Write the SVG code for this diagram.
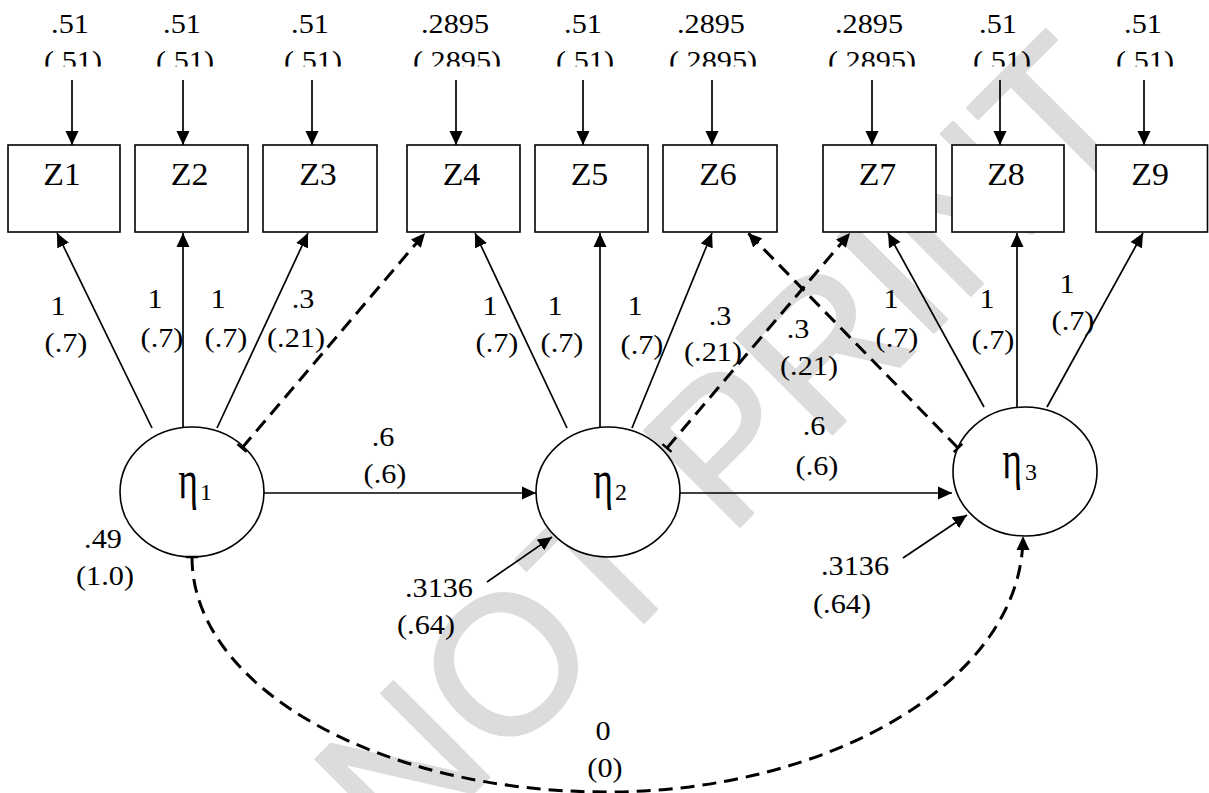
<svg xmlns="http://www.w3.org/2000/svg" width="1209" height="793" viewBox="0 0 1209 793">
  <style>
    .box { fill: #fff; stroke: #000; stroke-width: 1.6; }
    .lat { fill: #fff; stroke: #000; stroke-width: 1.6; }
    .solid { fill: none; stroke: #000; stroke-width: 1.7; marker-end: url(#ah); }
    .dash { fill: none; stroke: #000; stroke-width: 3; stroke-dasharray: 14 8; marker-start: url(#tk); marker-end: url(#ah); }
    .t { font-family: "Liberation Serif", serif; font-size: 27px; text-anchor: middle; fill: #000;
         transform-box: fill-box; transform-origin: center; transform: scaleX(1.12); }
    .z { font-size: 32px; transform: scaleX(1.06); }
    .eta { font-family: "Liberation Serif", serif; font-size: 42px; text-anchor: middle; fill: #000; }
    .sub { font-family: "Liberation Serif", serif; font-size: 24px; text-anchor: middle; fill: #000; }
    .wm { font-family: "Liberation Sans", Arial, sans-serif; font-size: 196px; fill: #dcdcdc; stroke: #dcdcdc; stroke-width: 3; stroke-linejoin: round; }
  </style>
  <defs>
    <marker id="ah" viewBox="0 0 14 14" refX="14" refY="7" markerWidth="14" markerHeight="14" markerUnits="userSpaceOnUse" orient="auto">
      <path d="M0,0.5 L14,7 L0,13.5 z" fill="#000"/>
    </marker>
    <marker id="tk" viewBox="-2 -7 4 14" refX="0" refY="0" markerWidth="4" markerHeight="14" markerUnits="userSpaceOnUse" orient="auto">
      <path d="M0,-6 L0,6" stroke="#000" stroke-width="2.5"/>
    </marker>
    <clipPath id="topclip">
      <rect x="0" y="0" width="1209" height="66.5"/>
    </clipPath>
  </defs>

  <rect width="1209" height="793" fill="#fff"/>

  <!-- watermark behind the model -->
  <text class="wm" transform="translate(400,866) rotate(-45)">NOT PRINT</text>

  <!-- error variances above the indicators -->
  <g id="error-variances" clip-path="url(#topclip)">
    <text class="t" x="70" y="33">.51</text><text class="t" x="73" y="70.5">(.51)</text>
    <text class="t" x="182" y="33">.51</text><text class="t" x="185" y="70.5">(.51)</text>
    <text class="t" x="310" y="33">.51</text><text class="t" x="313" y="70.5">(.51)</text>
    <text class="t" x="455" y="33">.2895</text><text class="t" x="457" y="70.5">(.2895)</text>
    <text class="t" x="583" y="33">.51</text><text class="t" x="585" y="70.5">(.51)</text>
    <text class="t" x="711" y="33">.2895</text><text class="t" x="713" y="70.5">(.2895)</text>
    <text class="t" x="869" y="33">.2895</text><text class="t" x="872" y="70.5">(.2895)</text>
    <text class="t" x="998" y="33">.51</text><text class="t" x="1002" y="70.5">(.51)</text>
    <text class="t" x="1143" y="33">.51</text><text class="t" x="1145" y="70.5">(.51)</text>
  </g>

  <!-- indicator boxes -->
  <g id="Z1"><rect class="box" x="8" y="145" width="112" height="87"/><text class="t z" x="62" y="185">Z1</text></g>
  <g id="Z2"><rect class="box" x="135" y="145" width="113" height="87"/><text class="t z" x="189.5" y="185">Z2</text></g>
  <g id="Z3"><rect class="box" x="263" y="145" width="114" height="87"/><text class="t z" x="318" y="185">Z3</text></g>
  <g id="Z4"><rect class="box" x="407" y="145" width="113" height="87"/><text class="t z" x="461.5" y="185">Z4</text></g>
  <g id="Z5"><rect class="box" x="535" y="145" width="113" height="87"/><text class="t z" x="589.5" y="185">Z5</text></g>
  <g id="Z6"><rect class="box" x="663" y="145" width="114" height="87"/><text class="t z" x="718" y="185">Z6</text></g>
  <g id="Z7"><rect class="box" x="823" y="145" width="113" height="87"/><text class="t z" x="877.5" y="185">Z7</text></g>
  <g id="Z8"><rect class="box" x="952" y="145" width="112" height="87"/><text class="t z" x="1006" y="185">Z8</text></g>
  <g id="Z9"><rect class="box" x="1096" y="145" width="111.5" height="87"/><text class="t z" x="1150" y="185">Z9</text></g>

  <!-- latent factors -->
  <g id="eta1">
    <ellipse class="lat" cx="192" cy="492" rx="72" ry="65"/>
    <text class="eta" transform="translate(188,498) scale(0.9,1.3)">η</text>
    <text class="sub" x="206" y="500">1</text>
  </g>
  <g id="eta2">
    <ellipse class="lat" cx="608" cy="492" rx="72" ry="65"/>
    <text class="eta" transform="translate(603,498) scale(0.9,1.3)">η</text>
    <text class="sub" x="621" y="500">2</text>
  </g>
  <g id="eta3">
    <ellipse class="lat" cx="1025" cy="471.5" rx="72" ry="64.5"/>
    <text class="eta" transform="translate(1012,478) scale(0.9,1.3)">η</text>
    <text class="sub" x="1031" y="480">3</text>
  </g>

  <!-- paths -->
  <g id="connectors">
    <!-- error terms into indicators -->
    <line class="solid" x1="72" y1="80" x2="72" y2="145"/>
    <line class="solid" x1="183" y1="80" x2="183" y2="145"/>
    <line class="solid" x1="312" y1="80" x2="312" y2="145"/>
    <line class="solid" x1="456" y1="80" x2="456" y2="145"/>
    <line class="solid" x1="583" y1="80" x2="583" y2="145"/>
    <line class="solid" x1="712" y1="80" x2="712" y2="145"/>
    <line class="solid" x1="872" y1="80" x2="872" y2="145"/>
    <line class="solid" x1="1000" y1="80" x2="1000" y2="145"/>
    <line class="solid" x1="1144" y1="80" x2="1144" y2="145"/>

    <!-- loadings -->
    <line class="solid" x1="152" y1="428" x2="57" y2="233"/>
    <line class="solid" x1="183" y1="428" x2="183" y2="233"/>
    <line class="solid" x1="217" y1="428" x2="308" y2="233"/>
    <line class="solid" x1="567" y1="428" x2="475" y2="233"/>
    <line class="solid" x1="600" y1="428" x2="600" y2="233"/>
    <line class="solid" x1="632" y1="428" x2="712" y2="233"/>
    <line class="solid" x1="984" y1="407" x2="888" y2="233"/>
    <line class="solid" x1="1017" y1="407" x2="1017" y2="233"/>
    <line class="solid" x1="1047" y1="407" x2="1143" y2="233"/>

    <!-- cross loadings -->
    <line class="dash" x1="242" y1="448" x2="425" y2="233"/>
    <line class="dash" x1="667" y1="448" x2="850" y2="233"/>
    <line class="dash" x1="958" y1="448" x2="748" y2="233"/>

    <!-- structural paths -->
    <line class="solid" x1="264" y1="493" x2="536" y2="493"/>
    <line class="solid" x1="680" y1="493" x2="952" y2="493"/>

    <!-- disturbances -->
    <line class="solid" x1="487" y1="582" x2="552" y2="537"/>
    <line class="solid" x1="903" y1="558" x2="967" y2="515"/>

    <!-- covariance eta1 - eta3 -->
    <path class="dash" d="M192,557 C192,687 378,792 607,792 C830,792 1023,680 1023,536"/>
  </g>

  <!-- path labels -->
  <g id="labels">
    <text class="t" x="58" y="315">1</text><text class="t" x="66" y="352">(.7)</text>
    <text class="t" x="155" y="308">1</text><text class="t" x="162" y="347">(.7)</text>
    <text class="t" x="218" y="308">1</text><text class="t" x="226" y="347">(.7)</text>
    <text class="t" x="303" y="308">.3</text><text class="t" x="296" y="347">(.21)</text>

    <text class="t" x="490" y="315">1</text><text class="t" x="497" y="352">(.7)</text>
    <text class="t" x="555" y="315">1</text><text class="t" x="562" y="352">(.7)</text>
    <text class="t" x="635" y="315">1</text><text class="t" x="642" y="354">(.7)</text>
    <text class="t" x="720" y="325">.3</text><text class="t" x="713" y="361">(.21)</text>
    <text class="t" x="798" y="338">.3</text><text class="t" x="809" y="375">(.21)</text>

    <text class="t" x="891" y="308">1</text><text class="t" x="897" y="347">(.7)</text>
    <text class="t" x="987" y="308">1</text><text class="t" x="993" y="349">(.7)</text>
    <text class="t" x="1067" y="293">1</text><text class="t" x="1073" y="330">(.7)</text>

    <text class="t" x="383" y="446">.6</text><text class="t" x="385" y="483">(.6)</text>
    <text class="t" x="814" y="435">.6</text><text class="t" x="817" y="475">(.6)</text>

    <text class="t" x="103" y="548">.49</text><text class="t" x="105" y="585">(1.0)</text>
    <text class="t" x="439" y="597">.3136</text><text class="t" x="426" y="634">(.64)</text>
    <text class="t" x="855" y="575">.3136</text><text class="t" x="842" y="613">(.64)</text>

    <text class="t" x="603" y="740">0</text><text class="t" x="605" y="777">(0)</text>
  </g>
</svg>
